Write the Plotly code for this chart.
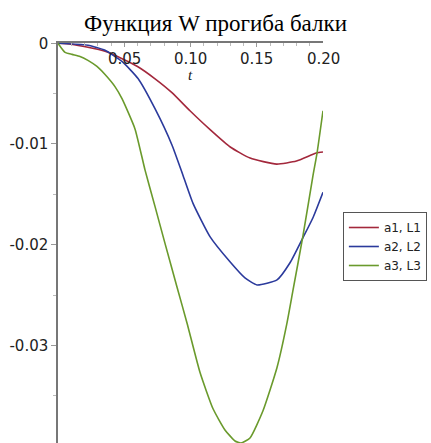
import plotly.graph_objects as go

# data
t_red = [0, 0.0098, 0.0226, 0.0355, 0.048, 0.060, 0.073, 0.086, 0.0996, 0.115, 0.130, 0.145, 0.165, 0.180, 0.195, 0.200]
w_red = [0, -0.0001, -0.0004, -0.0008, -0.0015, -0.0023, -0.0035, -0.0049, -0.0067, -0.0086, -0.0103, -0.0114, -0.0120, -0.0117, -0.0109, -0.0108]

t_blue = [0, 0.0226, 0.0355, 0.0483, 0.0604, 0.0732, 0.0860, 0.0943, 0.1019, 0.1147, 0.1298, 0.1411, 0.1502, 0.1653, 0.1751, 0.1849, 0.1925, 0.2000]
w_blue = [0, -0.0002, -0.0007, -0.0018, -0.0035, -0.0065, -0.0101, -0.0131, -0.0159, -0.0192, -0.0217, -0.0233, -0.0240, -0.0235, -0.0218, -0.0193, -0.0173, -0.0148]

t_green = [0, 0.0053, 0.0106, 0.0166, 0.0226, 0.0294, 0.0355, 0.0430, 0.0483, 0.0581, 0.0657, 0.0732, 0.0808, 0.0898, 0.0974, 0.1072, 0.1170, 0.1260, 0.1336, 0.1381, 0.1449, 0.1547, 0.1653, 0.1728, 0.1774, 0.1849, 0.1925, 0.1955, 0.2000]
w_green = [0, -0.0009, -0.0011, -0.0013, -0.0017, -0.0023, -0.0031, -0.0043, -0.0055, -0.0085, -0.0126, -0.0162, -0.0199, -0.0242, -0.0278, -0.0327, -0.0363, -0.0384, -0.0395, -0.0397, -0.0392, -0.0365, -0.0322, -0.0278, -0.0245, -0.0191, -0.0131, -0.0109, -0.0067]

names = ["a1, L1", "a2, L2", "a3, L3"]
colors = ["#a3283c", "#2b3a9c", "#6a9a2c"]

x_ticks = [0.05, 0.10, 0.15, 0.20]
x_ticktext = ["0.05", "0.10", "0.15", "0.20"]
y_ticks = [0, -0.01, -0.02, -0.03]
y_ticktext = ["0", "-0.01", "-0.02", "-0.03"]

fig = go.Figure()
for t, w, n, c in zip([t_red, t_blue, t_green], [w_red, w_blue, w_green], names, colors):
    fig.add_trace(go.Scatter(x=t, y=w, mode="lines", name=n,
                             line=dict(color=c, width=1.6, shape="spline", smoothing=0.5)))

tickfont = dict(family="DejaVu Sans", size=15, color="#222")

fig.update_layout(
    width=431, height=443,
    margin=dict(l=58, r=108, t=43, b=0),
    paper_bgcolor="white", plot_bgcolor="white",
    title=dict(text="Функция W прогиба балки", x=0.5, xanchor="center",
               y=1 - 23 / 443, yanchor="middle",
               font=dict(family="Liberation Serif", size=23, color="black")),
    showlegend=True,
    legend=dict(x=1.075, y=0.5775, xanchor="left", yanchor="top",
                bordercolor="#555", borderwidth=1, bgcolor="white",
                font=dict(family="DejaVu Sans", size=12, color="#222"),
                tracegroupgap=0, itemwidth=30),
    xaxis=dict(range=[0, 0.2], side="top", showgrid=False, zeroline=False,
               showline=True, linecolor="#777", linewidth=1.5,
               tickvals=x_ticks, ticks="inside", ticklen=4,
               tickcolor="#999", showticklabels=False,
               minor=dict(dtick=0.01, ticks="inside", ticklen=3, tickcolor="#bbb")),
    yaxis=dict(range=[-0.0397, 0.00003], showgrid=False, zeroline=False,
               showline=True, linecolor="#777", linewidth=1.5,
               tickvals=y_ticks, ticktext=y_ticktext, ticks="outside", ticklen=5,
               tickcolor="#999", tickfont=tickfont,
               minor=dict(dtick=0.005, ticks="outside", ticklen=3, tickcolor="#bbb")),
)

for xv, txt in zip(x_ticks, x_ticktext):
    fig.add_annotation(text=txt, x=xv, y=1, xref="x", yref="paper",
                       yshift=-16, yanchor="middle", xanchor="center", showarrow=False,
                       font=tickfont)

fig.add_annotation(text="<i>t</i>", x=0.10, y=1, xref="x", yref="paper",
                   yshift=-32, yanchor="middle", showarrow=False,
                   font=dict(family="Liberation Serif", size=15, color="#222"))

fig.write_html("out.html")
